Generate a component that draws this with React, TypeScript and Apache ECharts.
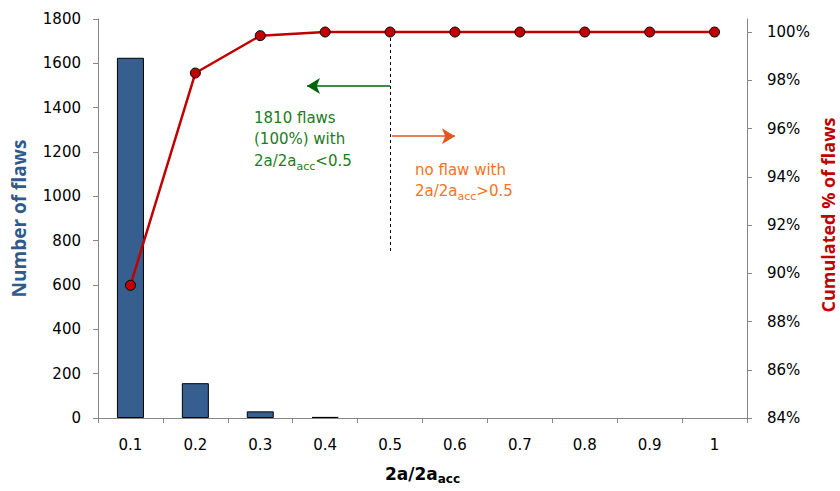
import React, { useEffect, useRef } from "react";
import * as echarts from "echarts";

const categories = ["0.1", "0.2", "0.3", "0.4", "0.5", "0.6", "0.7", "0.8", "0.9", "1"];
const flawCounts = [1625, 157, 30, 5, 0, 0, 0, 0, 0, 0];
const cumulatedPct = [89.5, 98.3, 99.85, 100, 100, 100, 100, 100, 100, 100];
const pctTicks = [84, 86, 88, 90, 92, 94, 96, 98, 100];
const countAxis = { min: 0, max: 1800, interval: 200 };
const pctAxis = { min: 84, max: 100.54 };

// annotation anchors (x on ratio scale, y on % scale)
const thresholdLine = [[0.5, 100], [0.5, 90.9]];
const leftArrow = [[0.5, 97.76], [0.372, 97.76]];
const rightArrow = [[0.503, 95.68], [0.6, 95.68]];
const leftNote = "1810 flaws\n(100%) with\n2a/2a{sub|acc}<0.5";
const rightNote = "no flaw with\n2a/2a{sub|acc}>0.5";
const rightTitle = "Cumulated % of flaws";

const FONT = "DejaVu Sans";
const TITLE_FONT = "Open Sans";

export default function App() {
  const ref = useRef<HTMLDivElement>(null);
  useEffect(() => {
    if (!ref.current) return;
    const chart = echarts.init(ref.current, null, { renderer: "svg" });
    const green = "#1E7B1E";
    const orange = "#F37321";
    chart.setOption({
      animation: false,
      grid: { left: 98, right: 93, top: 19, bottom: 73, containLabel: false, outerBoundsMode: "none" },
      xAxis: [
        {
          type: "category",
          data: categories,
          boundaryGap: true,
          axisLine: { lineStyle: { color: "#868686", width: 1 } },
          axisTick: { show: true, interval: 0, length: 5, lineStyle: { color: "#868686" } },
          axisLabel: { color: "#000", fontFamily: FONT, fontSize: 15, margin: 19, interval: 0 },
          name: "2a/2a{sub|acc}",
          nameLocation: "middle",
          nameGap: 45,
          nameTextStyle: {
            color: "#000",
            fontFamily: FONT,
            fontWeight: "bold",
            fontSize: 17,
            lineHeight: 22,
            rich: {
              sub: { fontFamily: FONT, fontWeight: "bold", fontSize: 12, verticalAlign: "bottom", lineHeight: 22, color: "#000" },
            },
          },
        },
        { type: "value", min: 0.05, max: 1.05, show: false },
      ],
      yAxis: [
        {
          type: "value",
          min: countAxis.min,
          max: countAxis.max,
          interval: countAxis.interval,
          position: "left",
          splitLine: { show: false },
          axisLine: { show: true, lineStyle: { color: "#868686" } },
          axisTick: { show: true, length: 5, lineStyle: { color: "#868686" } },
          axisLabel: { color: "#000", fontFamily: FONT, fontSize: 15, margin: 17, formatter: (v: number) => String(v) },
          name: "Number of flaws",
          nameLocation: "middle",
          nameRotate: 90,
          nameGap: 70,
          nameTextStyle: { color: "#2F5A8A", fontFamily: TITLE_FONT, fontWeight: "bold", fontSize: 19 },
        },
        {
          type: "value",
          min: pctAxis.min,
          max: pctAxis.max,
          position: "right",
          splitLine: { show: false },
          axisLine: { show: true, lineStyle: { color: "#868686" } },
          axisTick: { show: true, length: 5, customValues: pctTicks, lineStyle: { color: "#868686" } },
          axisLabel: {
            color: "#000",
            fontFamily: FONT,
            fontSize: 15,
            margin: 20,
            customValues: pctTicks,
            formatter: (v: number) => `${Math.round(v)}%`,
          },
        },
      ],
      series: [
        {
          type: "bar",
          data: flawCounts.map((v) => (v > 0 ? v : null)),
          barWidth: 27,
          xAxisIndex: 0,
          yAxisIndex: 0,
          itemStyle: { color: "#365E8E", borderColor: "#000", borderWidth: 1 },
          silent: true,
        },
        {
          type: "line",
          data: cumulatedPct,
          xAxisIndex: 0,
          yAxisIndex: 1,
          symbol: "circle",
          symbolSize: 10,
          lineStyle: { color: "#C00000", width: 2.5 },
          itemStyle: { color: "#C00000", borderColor: "#000", borderWidth: 1 },
          z: 5,
          silent: true,
        },
        {
          type: "line",
          xAxisIndex: 1,
          yAxisIndex: 1,
          data: [thresholdLine[0]],
          showSymbol: false,
          symbolSize: 0,
          lineStyle: { opacity: 0 },
          silent: true,
          z: 6,
          markLine: {
            silent: true,
            animation: false,
            label: { show: false },
            emphasis: { disabled: true },
            data: [
              [
                { coord: thresholdLine[0], symbol: "none", lineStyle: { color: "#000", width: 1, type: [3, 3] } },
                { coord: thresholdLine[1], symbol: "none" },
              ],
              [
                { coord: leftArrow[0], symbol: "none", lineStyle: { color: "#00650A", width: 1.5, type: "solid" } },
                { coord: leftArrow[1], symbol: "arrow", symbolSize: [12, 13] },
              ],
              [
                { coord: rightArrow[0], symbol: "none", lineStyle: { color: "#E2571E", width: 1.5, type: "solid" } },
                { coord: rightArrow[1], symbol: "arrow", symbolSize: [12, 13] },
              ],
            ],
          },
        },
      ],
      graphic: [
        {
          type: "text",
          x: 828,
          y: 215,
          rotation: Math.PI / 2,
          silent: true,
          style: {
            text: rightTitle,
            fill: "#C00000",
            fontFamily: TITLE_FONT,
            fontWeight: "bold",
            fontSize: 18,
            align: "center",
            verticalAlign: "middle",
          },
        },
        {
          type: "text",
          left: 254,
          top: 107,
          silent: true,
          style: {
            text: leftNote,
            fill: green,
            fontFamily: FONT,
            fontSize: 15,
            lineHeight: 21.5,
            rich: { sub: { fontFamily: FONT, fontSize: 11, fill: green, verticalAlign: "bottom", lineHeight: 21.5 } },
          },
        },
        {
          type: "text",
          left: 415,
          top: 159,
          silent: true,
          style: {
            text: rightNote,
            fill: orange,
            fontFamily: FONT,
            fontSize: 15,
            lineHeight: 21.5,
            rich: { sub: { fontFamily: FONT, fontSize: 11, fill: orange, verticalAlign: "bottom", lineHeight: 21.5 } },
          },
        },
      ],
    });
    return () => chart.dispose();
  }, []);
  return <div ref={ref} style={{ position: "fixed", left: 0, top: 0, width: 840, height: 491, background: "#fff" }} />;
}
